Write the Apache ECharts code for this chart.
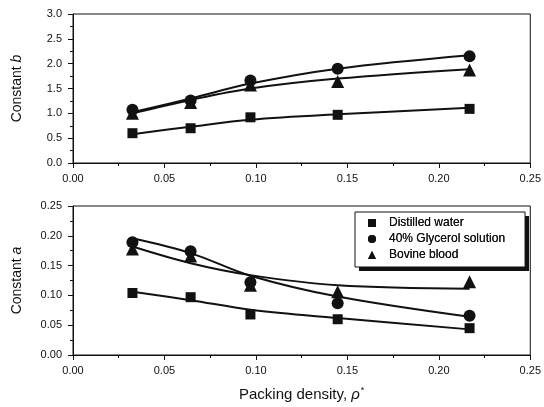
<!DOCTYPE html>
<html>
<head>
<meta charset="utf-8">
<script src="https://cdn.jsdelivr.net/npm/echarts@6/dist/echarts.min.js"></script>
<style>
    html, body { margin: 0; padding: 0; background: #fff; }
    #chart { width: 544px; height: 407px; }
</style>
</head>
<body>
<div id="chart"></div>
<script>
    // packing density (x)
    const xVals = [0.0325, 0.0643, 0.097, 0.1447, 0.2168];
    const seriesNames = ['Distilled water', '40% Glycerol solution', 'Bovine blood'];

    // Constant b, measured points
    const bWater = [0.60, 0.70, 0.92, 0.97, 1.09];
    const bGlycerol = [1.07, 1.26, 1.66, 1.90, 2.15];
    const bBlood = [1.00, 1.22, 1.57, 1.64, 1.87];
    // Constant b, fitted curves
    const bFitWater = [0.58, 0.73, 0.87, 0.98, 1.11];
    const bFitGlycerol = [1.02, 1.30, 1.60, 1.90, 2.17];
    const bFitBlood = [1.00, 1.27, 1.50, 1.70, 1.89];

    // Constant a, measured points
    const aWater = [0.104, 0.097, 0.068, 0.060, 0.045];
    const aGlycerol = [0.189, 0.174, 0.122, 0.087, 0.066];
    const aBlood = [0.178, 0.166, 0.117, 0.106, 0.123];
    // Constant a, fitted curves
    const aFitWater = [0.106, 0.092, 0.076, 0.062, 0.043];
    const aFitGlycerol = [0.196, 0.171, 0.133, 0.098, 0.064];
    const aFitBlood = [0.182, 0.154, 0.134, 0.117, 0.111];

    const ink = '#111';
    const font = 'Liberation Sans, Arial, sans-serif';
    const symbols = ['rect', 'circle', 'triangle'];
    const symbolSizes = [10, 12, 13];

    function pairs(ys) {
        return xVals.map(function (x, i) { return [x, ys[i]]; });
    }

    function xAxisOf(gridIndex, withName) {
        return {
            gridIndex: gridIndex,
            type: 'value',
            min: 0, max: 0.25, interval: 0.05,
            axisLine: { lineStyle: { color: ink, width: 1 } },
            axisTick: { inside: false, length: 5, lineStyle: { color: ink } },
            minorTick: { show: true, splitNumber: 2, length: 3, lineStyle: { color: ink } },
            splitLine: { show: false },
            axisLabel: { color: ink, fontFamily: font, fontSize: 11, margin: 10,
                formatter: function (v) { return v.toFixed(2); } },
            name: withName ? 'Packing density, {i|ρ}{s|*}' : '',
            nameLocation: 'middle',
            nameGap: 31,
            nameTextStyle: { color: ink, fontFamily: font, fontSize: 15,
                rich: {
                    i: { fontStyle: 'italic', fontFamily: font, fontSize: 15, color: ink },
                    s: { fontFamily: font, fontSize: 9, color: ink, verticalAlign: 'top', padding: [0, 0, 9, 1] }
                } }
        };
    }

    function yAxisOf(gridIndex, max, interval, digits, letter) {
        return {
            gridIndex: gridIndex,
            type: 'value',
            min: 0, max: max, interval: interval,
            axisLine: { show: true, lineStyle: { color: ink, width: 1 } },
            axisTick: { show: true, inside: false, length: 5, lineStyle: { color: ink } },
            minorTick: { show: true, splitNumber: 2, length: 3, lineStyle: { color: ink } },
            splitLine: { show: false },
            axisLabel: { color: ink, fontFamily: font, fontSize: 11, margin: 11,
                formatter: function (v) { return v.toFixed(digits); } },
            name: 'Constant {i|' + letter + '}',
            nameLocation: 'middle',
            nameGap: 49,
            nameTextStyle: { color: ink, fontFamily: font, fontSize: 14,
                rich: { i: { fontStyle: 'italic', fontFamily: font, fontSize: 14, color: ink } } }
        };
    }

    function panelSeries(axisIndex, points, fits) {
        const out = [];
        fits.forEach(function (ys, k) {
            out.push({
                name: seriesNames[k] + ' fit',
                type: 'line',
                xAxisIndex: axisIndex, yAxisIndex: axisIndex,
                data: pairs(ys),
                smooth: 0.35,
                showSymbol: false,
                lineStyle: { color: ink, width: 2 },
                z: 2,
                silent: true
            });
        });
        points.forEach(function (ys, k) {
            out.push({
                name: seriesNames[k],
                type: 'scatter',
                xAxisIndex: axisIndex, yAxisIndex: axisIndex,
                data: pairs(ys),
                symbol: symbols[k],
                symbolSize: symbolSizes[k],
                itemStyle: { color: ink, opacity: 1 },
                z: 3
            });
        });
        return out;
    }

    // two identical legends: the back one carries the hard drop shadow, the front one the border
    function legendOf(front) {
        return {
            data: seriesNames.map(function (n, k) { return { name: n, icon: symbols[k] }; }),
            orient: 'vertical',
            left: 355, top: 212,
            itemWidth: 8, itemHeight: 8,
            itemGap: 4,
            padding: [5, 20, 6, 13],
            backgroundColor: front ? 'transparent' : '#fff',
            borderColor: ink, borderWidth: front ? 1 : 0,
            shadowColor: front ? 'transparent' : ink,
            shadowBlur: 0,
            shadowOffsetX: front ? 0 : 4,
            shadowOffsetY: front ? 0 : 4,
            textStyle: { color: ink, fontFamily: font, fontSize: 12, padding: [0, 0, 0, 8] },
            itemStyle: { color: ink },
            selectedMode: false,
            z: front ? 6 : 5
        };
    }

    const chart = echarts.init(document.getElementById('chart'));
    chart.setOption({
        animation: false,
        backgroundColor: '#fff',
        grid: [
            { left: 73, right: 12, top: 14, height: 149, show: true, borderColor: ink, borderWidth: 1 },
            { left: 73, right: 12, top: 206, height: 149, show: true, borderColor: ink, borderWidth: 1 }
        ],
        xAxis: [xAxisOf(0, false), xAxisOf(1, true)],
        yAxis: [
            yAxisOf(0, 3.0, 0.5, 1, 'b'),
            yAxisOf(1, 0.25, 0.05, 2, 'a')
        ],
        legend: [legendOf(false), legendOf(true)],
        series: panelSeries(0, [bWater, bGlycerol, bBlood], [bFitWater, bFitGlycerol, bFitBlood])
            .concat(panelSeries(1, [aWater, aGlycerol, aBlood], [aFitWater, aFitGlycerol, aFitBlood]))
    });
</script>
</body>
</html>
